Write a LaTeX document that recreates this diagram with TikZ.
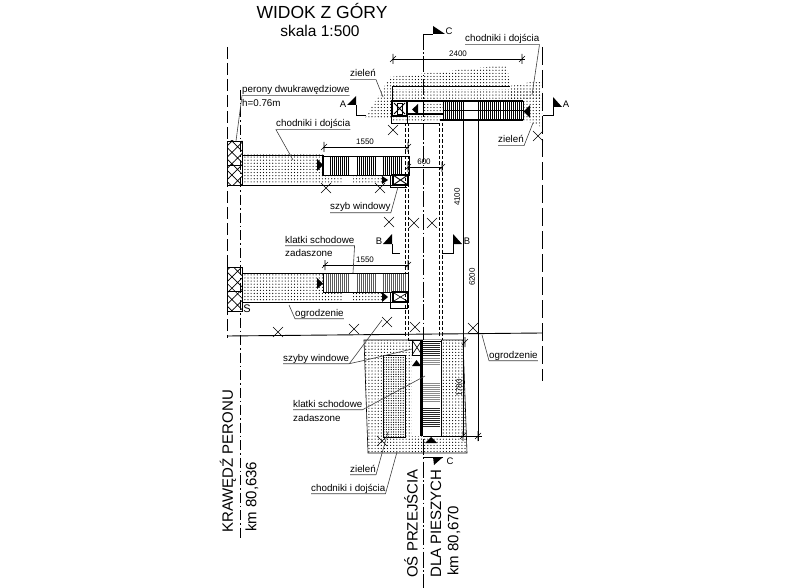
\documentclass[tikz,border=0pt]{standalone}
\usepackage{fontspec}
\setmainfont{Liberation Sans}
\usetikzlibrary{patterns.meta}

\newcommand{\xmark}[2]{\draw[thin line] (#1,#2) ++(-5,-5) -- ++(10,10) ++(-10,0) -- ++(10,-10);}
\newcommand{\dimtick}[2]{\draw[thin line] (#1,#2) ++(-3,3) -- ++(6,-6) (#1,#2) ++(0,-5) -- ++(0,10);}
\newcommand{\stripes}[3]{\foreach \sx in {#1,#2,...,#3} \draw[stripe line] (\sx,0) -- (\sx,1);}

\begin{document}
\begin{tikzpicture}[x=1pt, y=-1pt, line join=miter,
    thin line/.style={line width=.6pt},
    main line/.style={line width=.9pt},
    bold line/.style={line width=2pt},
    leader/.style={line width=.6pt, black!75},
    stripe line/.style={line width=.8pt},
    dot fill/.style={pattern={Dots[radius=.6pt,distance=3.1pt]}},
    dense fill/.style={pattern={Dots[radius=.65pt,distance=2.4pt]}},
    hatch fill/.style={pattern={Hatch[angle=45,distance=8pt,line width=.7pt]}},
    double dash/.style={line width=.8pt, dash pattern=on 3.5pt off 2pt},
    lbl/.style={font=\fontsize{9.8}{11}\selectfont, anchor=base west, inner sep=0pt, text depth=2.5pt},
    dimtext/.style={font=\fontsize{8}{9}\selectfont, inner sep=0pt},
    big/.style={font=\fontsize{17.5}{20}\selectfont, inner sep=0pt},
    side/.style={font=\fontsize{15}{18}\selectfont, inner sep=0pt, rotate=90, anchor=west},
    secmark/.style={font=\fontsize{9.5}{11}\selectfont, inner sep=0pt}]
    \useasboundingbox (0,0) rectangle (800,588);

    \node[big] (title) at (322,11) {WIDOK Z GÓRY};
    \node[big, font=\fontsize{15.5}{18}\selectfont] (scale) at (320,31) {skala 1:500};

    % long lines
    \draw[thin line, dash pattern=on 12pt off 4pt] (227,47) -- (227,338);
    \draw[thin line, dash pattern=on 10pt off 3pt on 1.5pt off 3pt] (240,90) -- (240,540);
    \draw[main line, dash pattern=on 18pt off 5pt] (542,47) -- (542,381);
    \draw[main line, dash pattern=on 16pt off 2.5pt on 1.5pt off 2.5pt] (423,34) -- (423,588);
    \draw[main line] (227,336) -- (542,333);

    % green area and upper block
    \fill[dot fill] (365,118) -- (390,77) -- (507,65) -- (510,86) -- (392,86) -- (392,118) -- cycle;
    \fill[dot fill] (510,86) -- (542,80) -- (542,127) -- (523,120) -- (523,100) -- (510,100) -- cycle;
    \fill[dot fill] (392,90) rectangle (541,100);
    \fill[dot fill] (392,116) rectangle (440,122);
    \fill[dot fill] (423,103) rectangle (443,113);
    \draw[main line] (392,100) -- (392,86) -- (510,86);
    \draw[main line] (391,116) -- (391,123) -- (440,123);
    \draw[main line] (407,116) -- (407,123);
    \draw[bold line] (408,101) -- (523,101) (408,114) -- (443,114) (440,120) -- (523,120);
    \draw[bold line] (392,101) rectangle (407,116);
    \draw[main line] (394,103) -- (405,114) (394,114) -- (405,103);
    \draw[main line] (397,103) rectangle (402,114);
    \begin{scope}[shift={(0,101)}, yscale=19]
        \stripes{445}{447}{463}
        \stripes{478}{480}{500}
        \stripes{503}{505}{522}
    \end{scope}
    \draw[main line] (443,101) -- (443,120) (523,101) -- (523,120) (443,110) -- (523,110);
    \fill (418,104) -- (418,115) -- (412,109.5) -- cycle;
    \fill (530,105) -- (530,118) -- (523.5,111.5) -- cycle;

    % dims top
    \draw[thin line] (392,59) -- (525,59);
    \dimtick{393}{59}
    \dimtick{522}{59}
    \node[dimtext] (dimtop) at (458,54) {2400};

    % dashed shaft
    \draw[double dash] (405,123) -- (405,336) (408,123) -- (408,340);
    \draw[double dash] (439.5,123) -- (439.5,336) (442,123) -- (442,340);
    \draw[main line] (408,340) -- (442,340);

    % long dimension lines
    \draw[main line] (463,120) -- (463,437);
    \draw[main line] (478,120) -- (478,441);
    \node[dimtext, rotate=90] (dimb) at (457,197) {4100};
    \node[dimtext, rotate=90] (dimc) at (472,277) {6200};
    \dimtick{465}{342}

    % platform 1
    \fill[dot fill] (242,155) rectangle (323,175);
    \fill[dot fill] (242,175) rectangle (343,184);
    \fill[dot fill] (353,175) rectangle (382,184);
    \draw[main line] (242,155) -- (323,155) (242,185) -- (409,185);
    \draw[hatch fill, main line] (227,141) rectangle (242,165);
    \draw[hatch fill, main line] (227,165) rectangle (242,185);
    \begin{scope}[shift={(0,156)}, yscale=19]
        \stripes{330}{332}{348}
        \stripes{357}{359}{375}
        \stripes{383}{385}{402}
    \end{scope}
    \draw[main line] (323,156) rectangle (409,175);
    \draw[bold line] (323,155) -- (323,176);
    \fill (317,159) -- (317,171) -- (323,165) -- cycle;
    \fill (382,176) -- (382,184) -- (388,180) -- cycle;
    \draw[main line] (390,175) -- (390,187) -- (407,187);
    \draw[line width=1.2pt] (393,175) rectangle (408,185);
    \draw[main line] (393,175) -- (408,185) (393,185) -- (408,175);
    \draw[thin line] (323,147) -- (409,147);
    \dimtick{324}{147}
    \dimtick{408}{147}
    \node[dimtext] (dimp) at (365,142) {1550};
    \draw[thin line] (408,167) -- (442,167);
    \dimtick{408}{167}
    \dimtick{442}{167}
    \node[dimtext] (dimd) at (424,162) {600};

    % platform 2
    \fill[dot fill] (242,274) rectangle (323,292);
    \fill[dot fill] (242,292) rectangle (343,301);
    \fill[dot fill] (353,292) rectangle (382,301);
    \draw[main line] (242,273) -- (323,273) (242,302) -- (409,302);
    \draw[hatch fill, main line] (227,267) rectangle (242,291);
    \draw[hatch fill, main line] (227,291) rectangle (242,311);
    \begin{scope}[shift={(0,274)}, yscale=18, black!65]
        \stripes{326}{328}{348}
        \stripes{357}{359}{375}
        \stripes{383}{385}{406}
    \end{scope}
    \draw[main line] (323,273) rectangle (408,292);
    \fill (317,278) -- (317,289) -- (323,283.5) -- cycle;
    \fill (382,292) -- (382,302) -- (388,297) -- cycle;
    \draw[main line] (390,292) -- (390,308) -- (407,308) -- (407,302);
    \draw[line width=1.2pt] (393,292) rectangle (408,302);
    \draw[thin line] (394,293) -- (407,301) (394,301) -- (407,293);
    \draw[thin line] (323,265) -- (409,265);
    \dimtick{325}{265}
    \dimtick{408}{265}
    \node[dimtext] (dimq) at (365,260) {1550};
    \node[font=\fontsize{11}{13}\selectfont, inner sep=0pt] (sign) at (247,309) {S};

    % lower block
    \fill[dot fill] (364,340) -- (463,340) -- (467,453) -- (368,453) -- cycle;
    \draw[thin line] (364,340) -- (368,453) -- (467,453) -- (463,340) -- cycle;
    \fill[white] (412,340) rectangle (441,436);
    \draw[main line, fill=white] (383,355) rectangle (405,437);
    \fill[dense fill] (383,355) rectangle (405,437);
    \draw[main line, fill=white] (412,340) rectangle (422,355);
    \draw[thin line] (412,340) -- (422,355) (412,355) -- (422,340);
    \begin{scope}[black!85]
        \foreach \sy in {343,345,...,355,408,410,...,427} \draw[stripe line] (423,\sy) -- (440,\sy);
    \end{scope}
    \begin{scope}[black!45]
        \foreach \sy in {358,360,...,365,383,385,...,402} \draw[stripe line] (423,\sy) -- (440,\sy);
    \end{scope}
    \draw[main line] (441,340) -- (441,436) (423,436) -- (441,436) (423,341) -- (441,341);
    \draw[line width=3pt] (421.5,340) -- (421.5,436);
    \fill (412,366) -- (421,366) -- (416.5,360) -- cycle;
    \fill (425,443) -- (437,443) -- (431,437) -- cycle;
    \draw[thin line] (440,436) -- (482,436);
    \dimtick{463}{436}
    \dimtick{478}{436}
    \node[dimtext, rotate=90] (dime) at (459,388) {1780};

    % crosses
    \xmark{393}{130}
    \xmark{538}{136}
    \xmark{326}{188}
    \xmark{380}{188}
    \xmark{389}{222}
    \xmark{414}{223}
    \xmark{432}{223}
    \xmark{278}{332}
    \xmark{354}{329}
    \xmark{387}{322}
    \xmark{415}{327}
    \xmark{473}{328}
    \xmark{382}{441}

    % section marks
    \draw[main line] (423,34) -- (433,34);
    \fill (433,34) -- (433,26) -- (445,34) -- cycle;
    \node[secmark] (secc) at (449,31) {C};
    \draw[main line] (423,457) -- (443,457);
    \fill (433,457) -- (443,457) -- (434,465) -- cycle;
    \node[secmark] (secd) at (450,461) {C};
    \draw[main line] (366,115) -- (356,115) -- (356,105);
    \fill (347,105) -- (356,105) -- (356,96) -- cycle;
    \node[secmark] (seca) at (343,104) {A};
    \draw[main line] (543,115) -- (553,115) -- (553,107);
    \fill (553,107) -- (553,97) -- (562,107) -- cycle;
    \node[secmark] (secb) at (566,104) {A};
    \draw[main line] (392,253) -- (392,244) (392,253) -- (400,253);
    \fill (383,244) -- (392,244) -- (392,234) -- cycle;
    \node[secmark] (sece) at (379,241) {B};
    \draw[main line] (442,253) -- (453,253) -- (453,244);
    \fill (453,244) -- (453,234) -- (462,244) -- cycle;
    \node[secmark] (secf) at (467,241) {B};

    % labels
    \node[lbl] (zielenA) at (350,77) {zieleń};
    \draw[leader] (zielenA.south west) -- (zielenA.south east) -- (383,97);
    \node[lbl] (chodnikA) at (465,42) {chodniki i dojścia};
    \draw[leader] (chodnikA.south west) -- (chodnikA.south east) -- (532,95);
    \node[lbl] (zielenB) at (498,143) {zieleń};
    \draw[leader] (zielenB.south west) -- (zielenB.south east) -- (533,123);
    \node[lbl] (perony) at (242,93) {perony dwukrawędziowe};
    \draw[leader] (perony.south east) -- (perony.south west) -- (236,141);
    \node[lbl] (wys) at (242,107) {h=0.76m};
    \node[lbl] (chodnikB) at (276,127) {chodniki i dojścia};
    \draw[leader] (chodnikB.south east) -- (chodnikB.south west) -- (293,160);
    \node[lbl] (szyb) at (330,210) {szyb windowy};
    \draw[leader] (szyb.south west) -- (szyb.south east) -- (398,187);
    \node[lbl] (klatkiA) at (285,243) {klatki schodowe};
    \draw[leader] (klatkiA.south west) -- (klatkiA.south east) -- (353,273);
    \node[lbl] (zadaA) at (285,256) {zadaszone};
    \node[lbl] (ogrodzA) at (295,316) {ogrodzenie};
    \draw[leader] (ogrodzA.south east) -- (ogrodzA.south west) -- (289,305);
    \node[lbl] (szyby) at (283,361) {szyby windowe};
    \draw[leader] (szyby.south west) -- (szyby.south east) -- (382,320);
    \draw[leader] (szyby.south east) -- (366,360) -- (412,349);
    \node[lbl] (ogrodzB) at (489,358) {ogrodzenie};
    \draw[leader] (ogrodzB.south east) -- (ogrodzB.south west) -- (482,335);
    \node[lbl] (klatkiB) at (293,407) {klatki schodowe};
    \draw[leader] (klatkiB.south west) -- (klatkiB.south east) -- (425,376);
    \node[lbl] (zadaB) at (293,421) {zadaszone};
    \node[lbl] (zielenC) at (350,472) {zieleń};
    \draw[leader] (zielenC.south west) -- (zielenC.south east) -- (388,432);
    \node[lbl] (chodnikC) at (311,491) {chodniki i dojścia};
    \draw[leader] (chodnikC.south west) -- (chodnikC.south east) -- (397,452);

    % side texts
    \node[side] (krawedz) at (228,533) {KRAWĘDŹ PERONU};
    \node[side] (kmA) at (252,532) {km 80,636};
    \node[side] (osA) at (411,578) {OŚ PRZEJŚCIA};
    \node[side] (osB) at (436,578) {DLA PIESZYCH};
    \node[side] (kmB) at (454,576) {km 80,670};
\end{tikzpicture}
\end{document}
